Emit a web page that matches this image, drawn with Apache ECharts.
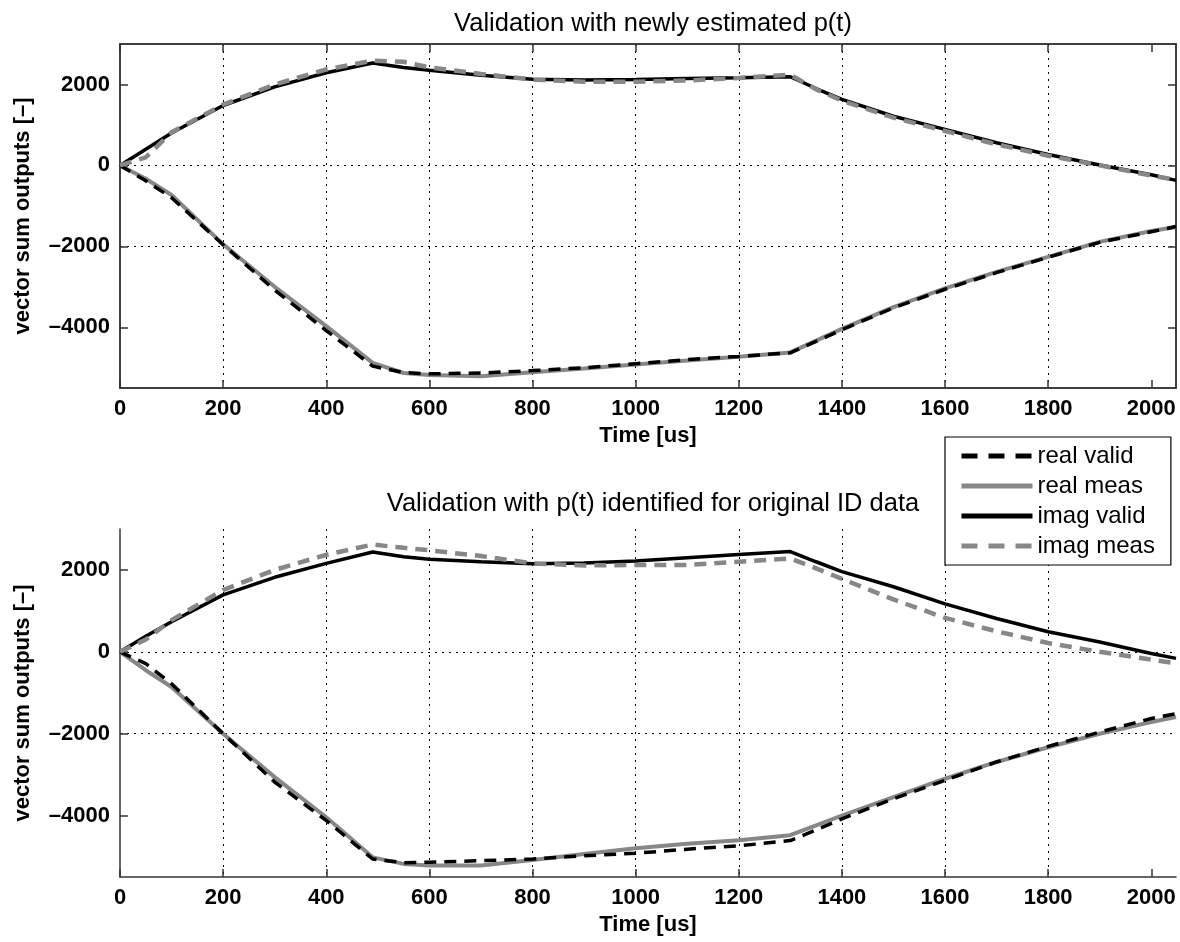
<!DOCTYPE html>
<html>
<head>
<meta charset="utf-8">
<script src="https://cdn.jsdelivr.net/npm/echarts@6/dist/echarts.min.js"></script>
<style>html,body{margin:0;padding:0;background:#fff}#c{width:1180px;height:942px}</style>
</head>
<body>
<div id="c"></div>
<script>
// Time samples [us]
const T = [0,50,100,200,300,400,490,550,600,700,800,900,1000,1100,1200,1300,1350,1400,1500,1600,1700,1800,1900,2000,2048];
const xTicks = [0,200,400,600,800,1000,1200,1400,1600,1800,2000];
const yTicks = [-4000,-2000,0,2000];
const titles = ['Validation with newly estimated p(t)', 'Validation with p(t) identified for original ID data'];
const seriesNames = ['real valid','real meas','imag valid','imag meas'];

// Top plot: newly estimated p(t)
const realValidTop = [0,-380,-800,-1960,-3080,-4080,-4960,-5120,-5150,-5130,-5070,-5000,-4900,-4800,-4720,-4630,-4350,-4060,-3520,-3060,-2650,-2270,-1900,-1640,-1510];
const realMeasTop  = [0,-330,-730,-1950,-3000,-3970,-4880,-5130,-5180,-5210,-5110,-5020,-4920,-4820,-4730,-4620,-4330,-4040,-3500,-3040,-2630,-2260,-1890,-1620,-1520];
const imagValidTop = [0,400,800,1480,1940,2290,2530,2420,2350,2230,2130,2110,2125,2150,2165,2190,1900,1630,1215,890,560,270,10,-230,-370];
const imagMeasTop  = [0,200,820,1500,2000,2370,2590,2560,2420,2260,2120,2070,2070,2100,2160,2240,1880,1600,1180,850,520,240,0,-250,-360];

// Bottom plot: p(t) identified for original ID data
const realValidBot = [0,-290,-780,-2000,-3180,-4120,-5060,-5150,-5140,-5100,-5060,-4980,-4920,-4820,-4740,-4610,-4350,-4080,-3590,-3140,-2690,-2310,-1960,-1630,-1510];
const realMeasBot  = [0,-450,-860,-2000,-3060,-4040,-5020,-5180,-5220,-5220,-5085,-4940,-4800,-4690,-4600,-4480,-4240,-4000,-3550,-3100,-2690,-2330,-2000,-1715,-1590];
const imagValidBot = [0,380,735,1390,1820,2160,2440,2320,2260,2200,2150,2170,2220,2300,2380,2450,2200,1960,1590,1170,815,490,240,-40,-160];
const imagMeasBot  = [0,300,775,1510,2000,2370,2620,2540,2480,2340,2160,2110,2120,2120,2200,2280,2040,1780,1280,830,500,215,0,-190,-280];

const FONT = 'Liberation Sans, Arial, Helvetica, sans-serif';
const AX = '#333';
const GRAY = '#878787';
const DASH = [12,8];

function pairs(vals){ return T.map((t,i)=>[t, vals[i]]); }
function fmt(v){ return String(v).replace('-', '\u2013'); }

function xAx(grid, pos, main){
  return {
    type:'value', gridIndex:grid, position:pos, min:0, max:2048,
    name: main ? 'Time [us]' : '', nameLocation:'middle', nameGap:37,
    nameTextStyle:{color:'#000', fontSize:22, fontWeight:'bold', fontFamily:FONT},
    axisLine:{show:true, onZero:false, lineStyle:{color:AX, width:1.5}},
    axisTick:{show:true, inside:true, length:8, customValues:xTicks, lineStyle:{color:AX, width:1.5}},
    axisLabel:{show:main, customValues:xTicks, margin:10, color:'#000', fontSize:22, fontWeight:'bold', fontFamily:FONT, formatter:fmt},
    splitLine:{show:main, showMinLine:false, showMaxLine:false, lineStyle:{color:'#000', width:1, type:[2,5]}}
  };
}
function yAx(grid, pos, main){
  return {
    type:'value', gridIndex:grid, position:pos, min:-5500, max:3000,
    name: main ? 'vector sum outputs [\u2013]' : '', nameLocation:'middle', nameGap:86,
    nameTextStyle:{color:'#000', fontSize:22, fontWeight:'bold', fontFamily:FONT},
    axisLine:{show:true, onZero:false, lineStyle:{color:AX, width:1.5}},
    axisTick:{show:true, inside:true, length:8, customValues:yTicks, lineStyle:{color:AX, width:1.5}},
    axisLabel:{show:main, customValues:yTicks, margin:10, color:'#000', fontSize:22, fontWeight:'bold', fontFamily:FONT, formatter:fmt},
    splitLine:{show:main, showMinLine:false, showMaxLine:false, lineStyle:{color:'#000', width:1, type:[2,5]}}
  };
}
function line(name, vals, xi, yi, color, width, type, z){
  return {
    name, type:'line', xAxisIndex:xi, yAxisIndex:yi, data:pairs(vals),
    showSymbol:false, symbol:'none', z, silent:true,
    lineStyle:{color, width, type}, itemStyle:{color}
  };
}
function legendItem(name, color, type){
  return {name, itemStyle:{opacity:0, borderWidth:0}, lineStyle:{color, width:5, type, cap:'butt'}};
}

const option = {
  animation:false,
  backgroundColor:'#fff',
  title:[
    {text:titles[0], left:648, top:6, textAlign:'center', textStyle:{color:'#000', fontSize:25.5, fontWeight:'normal', fontFamily:FONT}},
    {text:titles[1], left:648, top:486, textAlign:'center', textStyle:{color:'#000', fontSize:25.5, fontWeight:'normal', fontFamily:FONT}}
  ],
  grid:[
    {left:120, top:44, width:1056, height:344, show:true, borderColor:AX, borderWidth:1.5, containLabel:false, outerBoundsMode:'none'},
    {left:120, top:529, width:1056, height:348, containLabel:false, outerBoundsMode:'none'}
  ],
  xAxis:[ xAx(0,'bottom',true), xAx(0,'top',false), xAx(1,'bottom',true) ],
  yAxis:[ yAx(0,'left',true), yAx(0,'right',false), yAx(1,'left',true) ],
  legend:{
    data:[
      legendItem(seriesNames[0], '#000', [16,11]),
      legendItem(seriesNames[1], GRAY, 'solid'),
      legendItem(seriesNames[2], '#000', 'solid'),
      legendItem(seriesNames[3], GRAY, [16,11])
    ],
    orient:'vertical', left:945, top:437,
    backgroundColor:'#fff', borderColor:'#000', borderWidth:1.2, borderRadius:0,
    padding:[7,16,7,14], itemWidth:71, itemHeight:14, itemGap:6,
    itemStyle:{opacity:0},
    textStyle:{color:'#000', fontSize:24, fontFamily:FONT}, z:10
  },
  series:[
    line(seriesNames[1], realMeasTop, 0, 0, GRAY, 4, 'solid', 2),
    line(seriesNames[0], realValidTop, 0, 0, '#000', 3.5, DASH, 3),
    line(seriesNames[2], imagValidTop, 0, 0, '#000', 3.5, 'solid', 2),
    line(seriesNames[3], imagMeasTop, 0, 0, GRAY, 4.5, DASH, 3),
    line(seriesNames[1], realMeasBot, 2, 2, GRAY, 4, 'solid', 2),
    line(seriesNames[0], realValidBot, 2, 2, '#000', 3.5, DASH, 3),
    line(seriesNames[2], imagValidBot, 2, 2, '#000', 3.5, 'solid', 2),
    line(seriesNames[3], imagMeasBot, 2, 2, GRAY, 4.5, DASH, 3)
  ]
};
const chart = echarts.init(document.getElementById('c'), null, {renderer:'canvas'});
chart.setOption(option);
</script>
</body>
</html>
